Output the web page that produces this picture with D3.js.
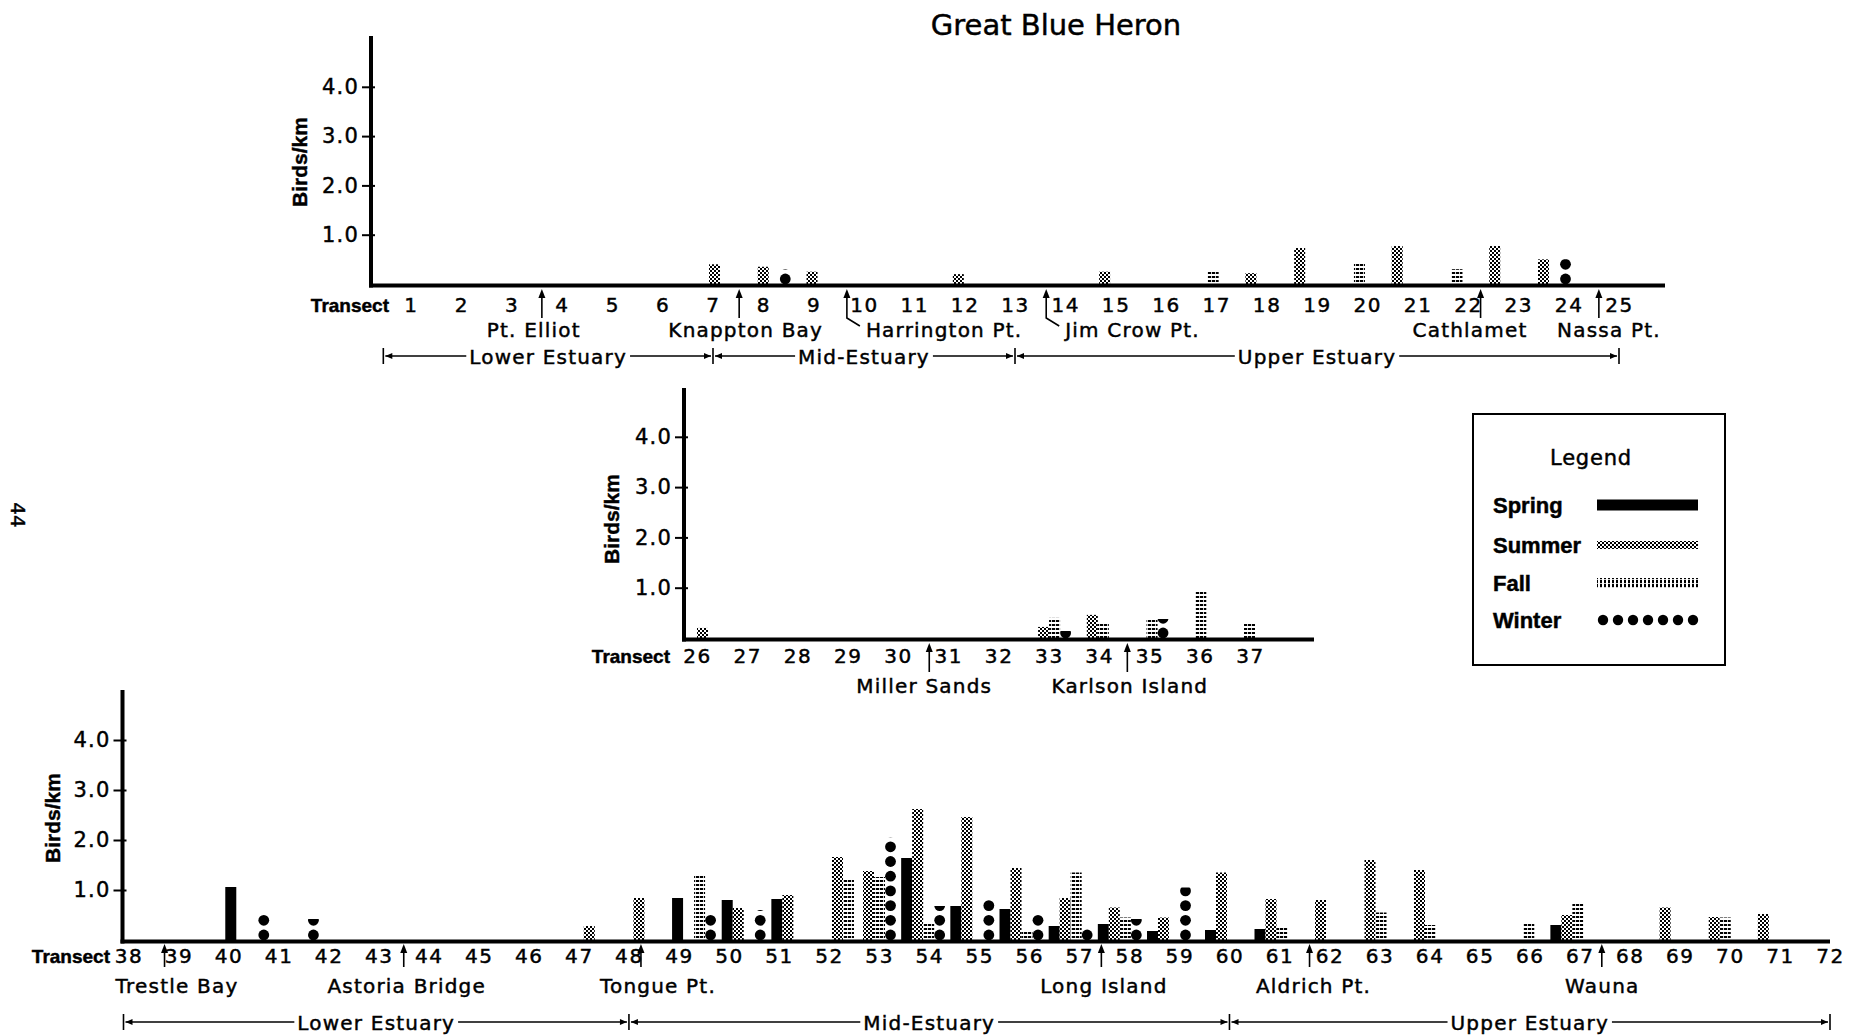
<!DOCTYPE html>
<html><head><meta charset="utf-8">
<script src="https://cdn.jsdelivr.net/npm/d3@7"></script>
<style>
body{margin:0;background:#fff;}
svg{display:block;}
text{stroke:#000;stroke-width:0.45px;fill:#000;}
</style></head><body>
<script>
// ---------------- DATA ----------------
const seasons = ["Spring", "Summer", "Fall", "Winter"];
const yTickValues = [1, 2, 3, 4];
const yTickLabels = ["1.0", "2.0", "3.0", "4.0"];
const estuaryNames = ["Lower Estuary", "Mid-Estuary", "Upper Estuary"];

// Top panel: transects 1-25
const topTransects = [1,2,3,4,5,6,7,8,9,10,11,12,13,14,15,16,17,18,19,20,21,22,23,24,25];
const topSpring = [0,0,0,0,0,0,0,0,0,0,0,0,0,0,0,0,0,0,0,0,0,0,0,0,0];
const topSummer = [0,0,0,0,0,0,0.40,0.35,0.25,0,0,0.20,0,0,0.25,0,0,0.22,0.73,0,0.77,0,0.77,0.50,0];
const topFall   = [0,0,0,0,0,0,0,0,0,0,0,0,0,0,0,0,0.25,0,0,0.43,0,0.30,0,0,0];
const topWinter = [0,0,0,0,0,0,0,0.30,0,0,0,0,0,0,0,0,0,0,0,0,0,0,0,0.50,0];
const topPlaces = ["Pt. Elliot", "Knappton Bay", "Harrington Pt.", "Jim Crow Pt.", "Cathlamet", "Nassa Pt."];
const topPlaceAt = [3.6, 7.52, 9.66, 13.62, 22.25, 24.6];      // arrow location (transect units)
const topPlaceLabelAt = [3.44, 7.65, 9.66, 13.62, 22.04, 24.8]; // name location (transect units)
const topPlaceHook = [false, false, true, true, false, false];
const topEstuaryBounds = [0.45, 7, 13, 25];

// Middle panel: transects 26-37
const midTransects = [26,27,28,29,30,31,32,33,34,35,36,37];
const midSpring = [0,0,0,0,0,0,0,0,0,0,0,0];
const midSummer = [0.20,0,0,0,0,0,0,0.22,0.46,0,0,0];
const midFall   = [0,0,0,0,0,0,0,0.40,0.30,0.38,0.93,0.30];
const midWinter = [0,0,0,0,0,0,0,0.14,0,0.38,0,0];
const midPlaces = ["Miller Sands", "Karlson Island"];
const midPlaceAt = [30.62, 34.56];
const midPlaceLabelAt = [30.52, 34.61];
const midPlaceHook = [false, false];

// Bottom panel: transects 38-72
const botTransects = [38,39,40,41,42,43,44,45,46,47,48,49,50,51,52,53,54,55,56,57,58,59,60,61,62,63,64,65,66,67,68,69,70,71,72];
const botSpring = [0,0,1.06,0,0,0,0,0,0,0,0,0.84,0.80,0.82,0,0,1.64,0.68,0.62,0.28,0.32,0.18,0.20,0.22,0,0,0,0,0,0.30,0,0,0,0,0];
const botSummer = [0,0,0,0,0,0,0,0,0,0.28,0.84,0,0.64,0.90,1.66,1.38,2.62,2.46,1.44,0.84,0.65,0.45,1.35,0.82,0.80,1.60,1.40,0,0,0.50,0,0.65,0.46,0.52,0];
const botFall   = [0,0,0,0,0,0,0,0,0,0,0,1.32,0,0,1.22,1.26,0.35,0,0.20,1.35,0.45,0,0,0.28,0,0.55,0.30,0,0.32,0.72,0,0,0.45,0,0];
const botWinter = [0,0,0.58,0.42,0,0,0,0,0,0,0,0.58,0.60,0,0,2.05,0.68,0.85,0.52,0.28,0.42,1.05,0,0,0,0,0,0,0,0,0,0,0,0,0];
const botPlaces = ["Trestle Bay", "Astoria Bridge", "Tongue Pt.", "Long Island", "Aldrich Pt.", "Wauna"];
const botPlaceAt = [38.72, 43.5, 48.24, 57.44, 61.6, 67.44];
const botPlaceLabelAt = [38.97, 43.56, 48.58, 57.49, 61.68, 67.45];
const botPlaceHook = [false, false, false, false, false, false];
const botEstuaryBounds = [37.9, 48, 60, 72];

// ---------------- DRAWING ----------------
const W = 1865, H = 1036;
const FONT = "'DejaVu Sans', Verdana, sans-serif";
const BOLD = "'Liberation Sans', Arial, sans-serif";
const svg = d3.select("body").append("svg").attr("width", W).attr("height", H);
svg.append("rect").attr("width", W).attr("height", H).attr("fill", "#fff");
const defs = svg.append("defs");

// patterns
const pS = defs.append("pattern").attr("id", "pSummer").attr("patternUnits", "userSpaceOnUse").attr("width", 4).attr("height", 4);
pS.append("rect").attr("width", 4).attr("height", 4).attr("fill", "#fff");
pS.append("rect").attr("x", 0).attr("y", 0).attr("width", 2).attr("height", 2).attr("fill", "#000");
pS.append("rect").attr("x", 2).attr("y", 2).attr("width", 2).attr("height", 2).attr("fill", "#000");
const pF = defs.append("pattern").attr("id", "pFall").attr("patternUnits", "userSpaceOnUse").attr("width", 4).attr("height", 4);
pF.append("rect").attr("width", 4).attr("height", 4).attr("fill", "#fff");
pF.append("rect").attr("x", 0).attr("y", 0).attr("width", 3.2).attr("height", 2).attr("fill", "#000");
const pFL = defs.append("pattern").attr("id", "pFallLeg").attr("patternUnits", "userSpaceOnUse").attr("width", 4).attr("height", 4);
pFL.append("rect").attr("width", 4).attr("height", 4).attr("fill", "#fff");
pFL.append("rect").attr("x", 0).attr("y", 0).attr("width", 2).attr("height", 3.2).attr("fill", "#000");
const seasonFill = ["#000", "url(#pSummer)", "url(#pFall)", null];

const SLOT = 11;
let clipId = 0;

function upArrow(g, x, tip, bot) {
  g.append("line").attr("x1", x).attr("x2", x).attr("y1", tip + 6).attr("y2", bot)
    .attr("stroke", "#000").attr("stroke-width", 1.6);
  g.append("path").attr("d", `M${x},${tip} L${x - 3.5},${tip + 9} L${x + 3.5},${tip + 9} Z`).attr("fill", "#000");
}

function estuaryRow(g, xl, bounds, yc) {
  for (let i = 0; i < 3; i++) {
    const a = xl(bounds[i]), b = xl(bounds[i + 1]);
    const t = g.append("text").attr("x", (a + b) / 2).attr("y", yc + 8).attr("text-anchor", "middle")
      .attr("font-family", FONT).attr("font-size", 20).attr("letter-spacing", 1.2).text(estuaryNames[i]);
    const tw = t.node().getComputedTextLength();
    const l = (a + b) / 2 - tw / 2 - 3, r = (a + b) / 2 + tw / 2 + 3;
    g.append("line").attr("x1", a + 2).attr("x2", l).attr("y1", yc).attr("y2", yc).attr("stroke", "#000").attr("stroke-width", 1.4);
    g.append("line").attr("x1", r).attr("x2", b - 2).attr("y1", yc).attr("y2", yc).attr("stroke", "#000").attr("stroke-width", 1.4);
    g.append("path").attr("d", `M${a + 2},${yc} L${a + 9},${yc - 3} L${a + 9},${yc + 3} Z`).attr("fill", "#000");
    g.append("path").attr("d", `M${b - 2},${yc} L${b - 9},${yc - 3} L${b - 9},${yc + 3} Z`).attr("fill", "#000");
  }
  bounds.forEach(v => {
    g.append("line").attr("x1", xl(v)).attr("x2", xl(v)).attr("y1", yc - 8).attr("y2", yc + 8)
      .attr("stroke", "#000").attr("stroke-width", 1.6);
  });
}

function drawPanel(c) {
  const g = svg.append("g");
  const y = d3.scaleLinear().domain([0, 4]).range([c.y0, c.y0 - 4 * c.unit]);
  const xl = d3.scaleLinear().domain(c.labelDomain).range(c.labelRange);
  const xb = d3.scaleLinear().domain(c.barDomain).range(c.barRange);

  // bars
  const rows = [];
  c.transects.forEach((t, i) => c.values.forEach((arr, k) => { if (arr[i] > 0) rows.push({ t, k, v: arr[i] }); }));
  g.selectAll("rect.bar").data(rows.filter(d => d.k < 3)).join("rect").attr("class", "bar")
    .attr("x", d => xb(d.t) + d.k * SLOT).attr("width", SLOT)
    .attr("y", d => y(d.v)).attr("height", d => y(0) - y(d.v))
    .attr("fill", d => seasonFill[d.k]);
  rows.filter(d => d.k === 3).forEach(d => {
    const id = "wclip" + (clipId++);
    const x0 = xb(d.t) + 3 * SLOT;
    defs.append("clipPath").attr("id", id).append("rect")
      .attr("x", x0 - 1).attr("width", SLOT + 2).attr("y", y(d.v)).attr("height", y(0) - y(d.v) + 4);
    const h = y(0) - y(d.v);
    const n = Math.ceil((h + 2) / 14.7);
    g.append("g").attr("clip-path", `url(#${id})`).selectAll("circle").data(d3.range(n)).join("circle")
      .attr("cx", x0 + SLOT / 2).attr("cy", i => y(0) - 5 - i * 14.7).attr("r", 5.4).attr("fill", "#000");
  });

  // axes lines
  g.append("line").attr("x1", c.axisX).attr("x2", c.axisX).attr("y1", c.yTop).attr("y2", c.y0 + 3.5)
    .attr("stroke", "#000").attr("stroke-width", 4);
  g.append("line").attr("x1", c.axisX - 2).attr("x2", c.baseRight).attr("y1", c.y0 + 1.5).attr("y2", c.y0 + 1.5)
    .attr("stroke", "#000").attr("stroke-width", 4);

  // y ticks via d3 axis
  const ya = g.append("g").attr("transform", `translate(${c.axisX},0)`)
    .call(d3.axisLeft(y).tickValues(yTickValues).tickFormat((d, i) => yTickLabels[i]).tickSize(9).tickPadding(3));
  ya.select(".domain").remove();
  ya.selectAll(".tick line").attr("x2", -9).attr("x1", 4).attr("stroke-width", 2);
  ya.selectAll(".tick text").attr("font-family", FONT).attr("font-size", 21).attr("letter-spacing", 1.2).attr("fill", "#000");

  // y title
  g.append("text").attr("transform", `translate(${c.titleX},${c.titleY}) rotate(-90)`)
    .attr("text-anchor", "middle").attr("dy", "0.35em")
    .attr("font-family", BOLD).attr("font-weight", "bold").attr("font-size", 21).text("Birds/km");

  // transect numbers via d3 axis
  const xa = g.append("g").attr("transform", `translate(0,${c.numY})`)
    .call(d3.axisBottom(xl).tickValues(c.transects).tickFormat(d => d).tickSize(0));
  xa.select(".domain").remove();
  xa.selectAll(".tick text").attr("y", 0).attr("dy", 0).attr("font-family", FONT).attr("font-size", 20)
    .attr("letter-spacing", 1.6).attr("fill", "#000");
  g.append("text").attr("x", c.transectRight).attr("y", c.numY).attr("text-anchor", "end")
    .attr("font-family", BOLD).attr("font-weight", "bold").attr("font-size", 19).text("Transect");

  // places
  c.places.forEach((p, i) => {
    const x = xl(c.placeAt[i]);
    if (c.placeHook[i]) {
      g.append("path").attr("d", `M${x},${c.arrowTip + 6} L${x},${c.arrowBot} L${x + 13},${c.arrowBot + 8}`)
        .attr("fill", "none").attr("stroke", "#000").attr("stroke-width", 1.6);
      g.append("path").attr("d", `M${x},${c.arrowTip} L${x - 3.5},${c.arrowTip + 9} L${x + 3.5},${c.arrowTip + 9} Z`).attr("fill", "#000");
      g.append("text").attr("x", x + 19).attr("y", c.placeY).attr("font-family", FONT).attr("font-size", 20)
        .attr("letter-spacing", 1.2).text(p);
    } else {
      upArrow(g, x, c.arrowTip, c.arrowBot);
      g.append("text").attr("x", xl(c.placeLabelAt[i])).attr("y", c.placeY).attr("text-anchor", "middle").attr("font-family", FONT)
        .attr("font-size", 20).attr("letter-spacing", 1.2).text(p);
    }
  });

  if (c.estBounds) estuaryRow(g, xl, c.estBounds, c.estY);
}

// Title
svg.append("text").attr("x", 1056).attr("y", 35).attr("text-anchor", "middle")
  .attr("font-family", FONT).attr("font-size", 29).text("Great Blue Heron");

// Page number
svg.append("text").attr("transform", "translate(18,515) rotate(90)").attr("text-anchor", "middle").attr("dy", "0.35em")
  .attr("font-family", FONT).attr("font-size", 20).text("44");

drawPanel({
  transects: topTransects, values: [topSpring, topSummer, topFall, topWinter],
  axisX: 371, yTop: 36, y0: 284, unit: 49.3, baseRight: 1665,
  labelDomain: [1, 25], labelRange: [411, 1619], barDomain: [7, 24], barRange: [698, 1527],
  numY: 312, transectRight: 389, titleX: 300, titleY: 162,
  places: topPlaces, placeAt: topPlaceAt, placeLabelAt: topPlaceLabelAt, placeHook: topPlaceHook, placeY: 337, arrowTip: 289, arrowBot: 318,
  estBounds: topEstuaryBounds, estY: 356
});
drawPanel({
  transects: midTransects, values: [midSpring, midSummer, midFall, midWinter],
  axisX: 684, yTop: 388, y0: 638, unit: 50.3, baseRight: 1314,
  labelDomain: [26, 37], labelRange: [697, 1250], barDomain: [26, 37], barRange: [686, 1222],
  numY: 663, transectRight: 670, titleX: 612, titleY: 519,
  places: midPlaces, placeAt: midPlaceAt, placeLabelAt: midPlaceLabelAt, placeHook: midPlaceHook, placeY: 693, arrowTip: 643, arrowBot: 672,
  estBounds: null
});
drawPanel({
  transects: botTransects, values: [botSpring, botSummer, botFall, botWinter],
  axisX: 122.5, yTop: 690, y0: 940, unit: 50, baseRight: 1830,
  labelDomain: [38, 72], labelRange: [128.5, 1830],
  barDomain: [38, 52, 53, 59, 60, 64, 72], barRange: [126, 821, 852, 1147, 1205, 1403, 1796],
  numY: 963, transectRight: 110, titleX: 53, titleY: 818,
  places: botPlaces, placeAt: botPlaceAt, placeLabelAt: botPlaceLabelAt, placeHook: botPlaceHook, placeY: 993, arrowTip: 944, arrowBot: 967,
  estBounds: botEstuaryBounds, estY: 1022
});

// Legend
const lg = svg.append("g");
lg.append("rect").attr("x", 1473).attr("y", 414).attr("width", 252).attr("height", 251)
  .attr("fill", "#fff").attr("stroke", "#000").attr("stroke-width", 2);
lg.append("text").attr("x", 1591).attr("y", 465).attr("text-anchor", "middle")
  .attr("font-family", FONT).attr("font-size", 21).attr("letter-spacing", 0.8).text("Legend");
const legY = [505, 545, 583, 620];
const legH = [11, 8, 10, 10];
seasons.forEach((s, i) => {
  lg.append("text").attr("x", 1493).attr("y", legY[i] + 8).attr("font-family", BOLD).attr("font-weight", "bold")
    .attr("font-size", 22).text(s);
  if (i < 3) {
    lg.append("rect").attr("x", 1597).attr("width", 101).attr("y", legY[i] - legH[i] / 2).attr("height", legH[i])
      .attr("fill", i === 0 ? "#000" : i === 1 ? "url(#pSummer)" : "url(#pFallLeg)");
  } else {
    lg.selectAll("circle.leg").data(d3.range(7)).join("circle").attr("class", "leg")
      .attr("cx", k => 1603 + k * 15).attr("cy", legY[i]).attr("r", 5.2).attr("fill", "#000");
  }
});
</script>
</body></html>
